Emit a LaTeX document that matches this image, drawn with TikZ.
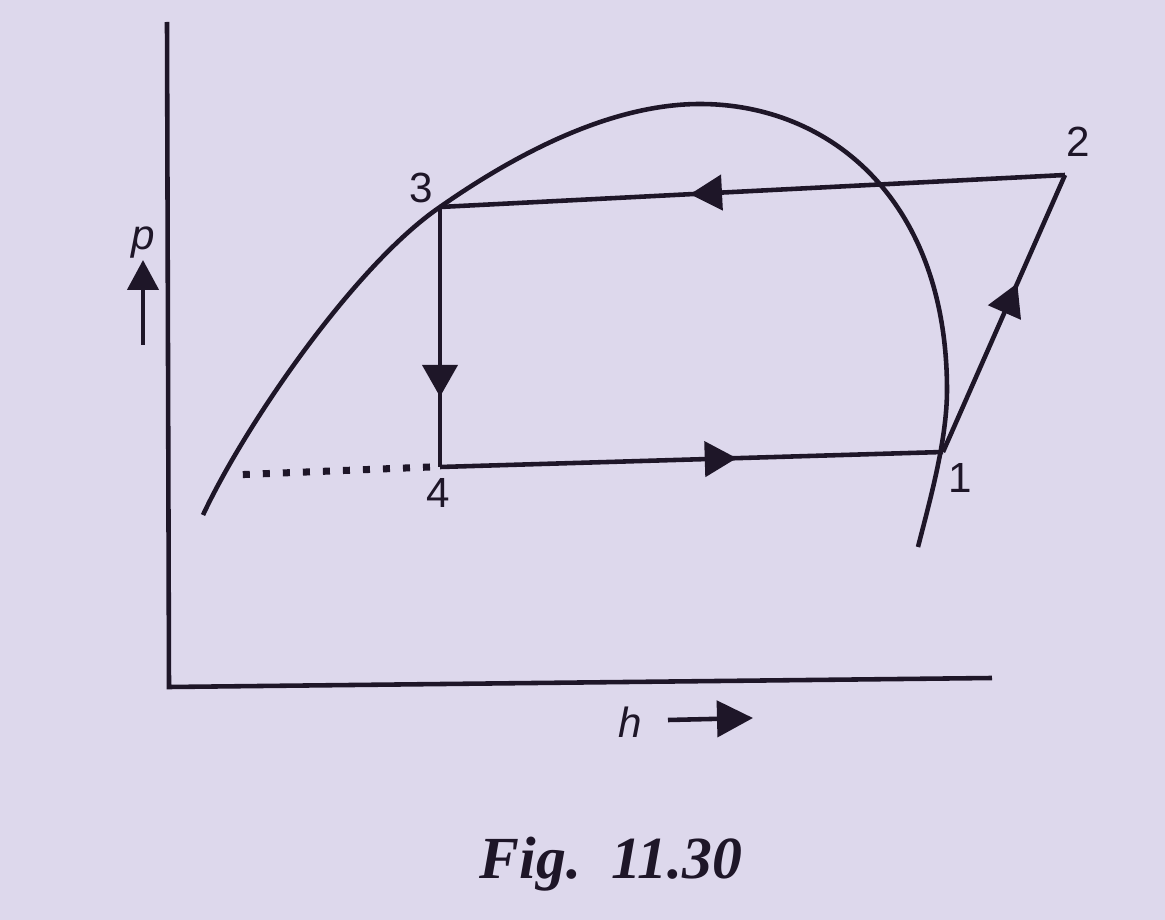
\documentclass[tikz,border=0pt]{standalone}
\usepackage{fontspec}
\setmainfont{Liberation Sans}
\newfontfamily\capfont{Liberation Serif}
\usetikzlibrary{arrows.meta, positioning, decorations.markings}

\definecolor{paper}{RGB}{221,216,236}
\definecolor{ink}{RGB}{30,22,40}

\begin{document}
\begin{tikzpicture}[
    >=Triangle,
    line width=1.3pt, draw=ink,
    lbl/.style={font=\fontsize{12}{14}\selectfont, text=ink},
    flow/.style={postaction={decorate},
                 decoration={markings, mark=at position #1 with
                   {\arrow[ink]{Triangle[length=3.2mm, width=3.5mm]}}}}
  ]
  % Page
  \fill[paper] (0,0) rectangle (11.65,9.20);
  \useasboundingbox (0,0) rectangle (11.65,9.20);

  % Axes
  \coordinate (top) at (1.67,8.98);
  \coordinate (org) at (1.69,2.33);
  \coordinate (rgt) at (9.92,2.42);
  \draw[ink] (top) -- (org) -- (rgt);

  % Saturation dome
  \draw[ink] (2.03,4.05) .. controls (2.45,4.95) and (3.55,6.55) .. (4.40,7.13)
    .. controls (5.30,7.76) and (6.20,8.16) .. (7.00,8.16)
    .. controls (8.30,8.16) and (9.47,7.20) .. (9.47,5.30)
    .. controls (9.47,4.80) and (9.30,4.20) .. (9.18,3.73);

  % Cycle states
  \coordinate (s1) at (9.43,4.68);
  \coordinate (s2) at (10.65,7.45);
  \coordinate (s3) at (4.40,7.13);
  \coordinate (s4) at (4.40,4.53);
  \coordinate (liq) at (2.32,4.45);

  \draw[ink, flow=0.61] (s1) -- (s2);
  \draw[ink, flow=0.60] (s2) -- (s3);
  \draw[ink, flow=0.73] (s3) -- (s4);
  \draw[ink, flow=0.59] (s4) -- (s1);
  \draw[ink, line width=2pt, dash pattern=on 2pt off 3.7pt] (s4) ++(-0.1,0) -- (liq);

  \node[lbl] (n1) at (9.60,4.42) {1};
  \node[lbl] (n2) at (10.78,7.78) {2};
  \node[lbl] (n3) at (4.21,7.32) {3};
  \node[lbl] (n4) at (4.38,4.27) {4};

  % Axis labels
  \node[lbl, font=\fontsize{12}{14}\selectfont\itshape] (pl) at (1.43,6.77) {p};
  \coordinate (pa) at (1.43,5.75);
  \draw[ink, -{Triangle[length=3mm, width=3.1mm]}] (pa) -- ++(0,0.85);
  \node[lbl, font=\fontsize{12}{14}\selectfont\itshape] (hl) at (6.30,1.98) {h};
  \coordinate (ha) at (6.68,2.00);
  \draw[ink, -{Triangle[length=3.6mm, width=3.6mm]}] (ha) -- ++(0.85,0.02);

  % Caption
  \node[text=ink, font=\capfont\fontsize{17}{20}\selectfont\bfseries\itshape]
    (cap) at (6.11,0.56) {Fig.~~11.30};
\end{tikzpicture}
\end{document}
